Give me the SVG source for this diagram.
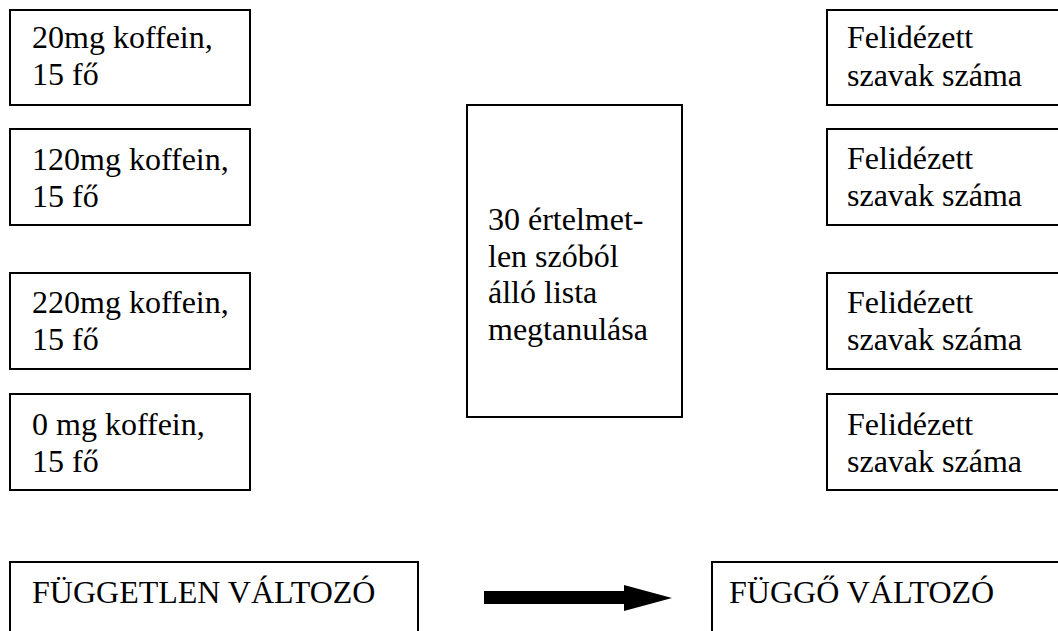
<svg xmlns="http://www.w3.org/2000/svg" width="1058" height="631" viewBox="0 0 1058 631">
<style>
rect.b{fill:#fff;stroke:#000;stroke-width:2}
text{font-family:"Liberation Serif","Times New Roman",serif;font-size:32px;fill:#000}
</style>
<rect width="1058" height="631" fill="#fff"/>
<g id="n-20mg"><rect class="b" x="10" y="10" width="240" height="95"/><text x="32" y="48">20mg koffein,</text><text x="32" y="85">15 fő</text></g>
<g id="n-120mg"><rect class="b" x="10" y="129" width="240" height="96"/><text x="32" y="170">120mg koffein,</text><text x="32" y="207">15 fő</text></g>
<g id="n-220mg"><rect class="b" x="10" y="273" width="240" height="96"/><text x="32" y="313">220mg koffein,</text><text x="32" y="350">15 fő</text></g>
<g id="n-0mg"><rect class="b" x="10" y="394" width="240" height="96"/><text x="32" y="435">0 mg koffein,</text><text x="32" y="472">15 fő</text></g>
<g id="n-center"><rect class="b" x="467" y="105" width="215" height="312"/><text x="488" y="230">30 értelmet-</text><text x="488" y="266.5">len szóból</text><text x="488" y="303">álló lista</text><text x="488" y="339.5">megtanulása</text></g>
<g id="n-r1"><rect class="b" x="827" y="10" width="240" height="95"/><text x="847" y="48">Felidézett</text><text x="847" y="86">szavak száma</text></g>
<g id="n-r2"><rect class="b" x="827" y="129" width="240" height="96"/><text x="847" y="169">Felidézett</text><text x="847" y="206">szavak száma</text></g>
<g id="n-r3"><rect class="b" x="827" y="273" width="240" height="96"/><text x="847" y="313">Felidézett</text><text x="847" y="350">szavak száma</text></g>
<g id="n-r4"><rect class="b" x="827" y="394" width="240" height="96"/><text x="847" y="435">Felidézett</text><text x="847" y="472">szavak száma</text></g>
<g id="n-fuggetlen"><rect class="b" x="10" y="562" width="408" height="80"/><text x="32" y="603">FÜGGETLEN VÁLTOZÓ</text></g>
<g id="n-fuggo"><rect class="b" x="712" y="562" width="360" height="80"/><text x="729" y="603">FÜGGŐ VÁLTOZÓ</text></g>
<g id="connectors"><polygon points="484,591 624,591 624,585 672,598 624,611 624,604 484,604" fill="#000"/></g>
</svg>
